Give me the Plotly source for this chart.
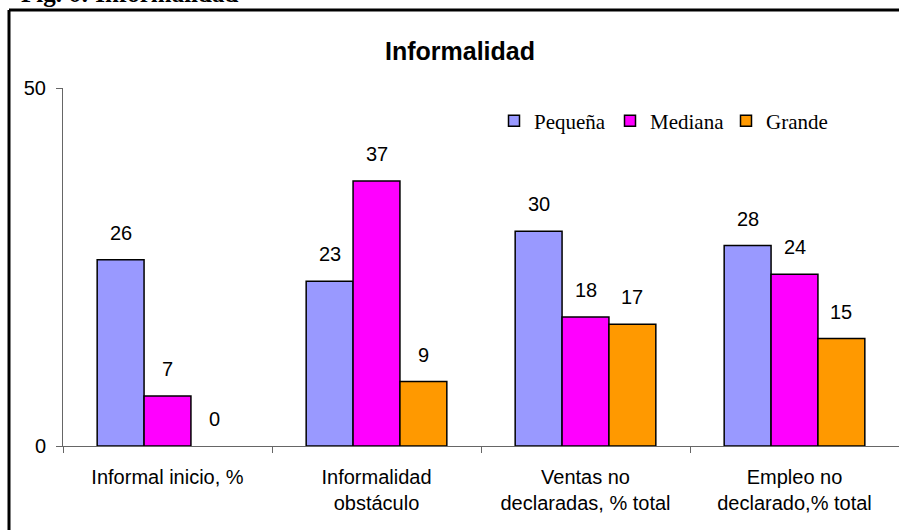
import plotly.graph_objects as go

categories = ["Informal inicio, %", "Informalidad<br>obstáculo",
              "Ventas no<br>declaradas, % total", "Empleo no<br>declarado,% total"]
series_names = ["Pequeña", "Mediana", "Grande"]
pequena = [26, 23, 30, 28]
mediana = [7, 37, 18, 24]
grande = [0, 9, 17, 15]
colors = ["#9999FF", "#FF00FF", "#FF9900"]
y_ticks = [0, 50]

W, H = 899, 530
L, R, T, B = 63, 0, 88, 84
BARGAP = 0.327

fig = go.Figure()
all_series = [pequena, mediana, grande]
for name, vals, col in zip(series_names, all_series, colors):
    fig.add_trace(go.Bar(name=name, x=categories, y=vals, showlegend=False,
                         marker=dict(color=col,
                                     line=dict(color="#000000",
                                               width=[0 if v == 0 else 1.5 for v in vals]))))
# legend entries
for name, col in zip(series_names, colors):
    fig.add_trace(go.Scatter(name=name, x=[None], y=[None], mode="markers",
                             marker=dict(symbol="square", size=11, color=col,
                                         line=dict(color="#000", width=1.5))))

bw = (1 - BARGAP) / 3
for j, vals in enumerate(all_series):
    for i, v in enumerate(vals):
        fig.add_annotation(x=i + (j - 1) * bw, y=v, xref="x", yref="y",
                           text=str(v), showarrow=False, yshift=27,
                           font=dict(family="Liberation Sans, Arial", size=20, color="#000"))

pw = W - L - R
ph = H - T - B
def px_x(p):
    return (p - L) / pw
def px_y(p):
    return (H - B - p) / ph

# outer frame (left and top edges visible)
fig.add_shape(type="line", xref="paper", yref="paper", x0=px_x(9), x1=px_x(9),
              y0=px_y(10), y1=px_y(540), line=dict(color="#000", width=3))
fig.add_shape(type="line", xref="paper", yref="paper", x0=px_x(9), x1=px_x(905),
              y0=px_y(10), y1=px_y(10), line=dict(color="#000", width=3))

fig.add_annotation(xref="paper", yref="paper", x=px_x(19), y=px_y(9),
                   xanchor="left", yanchor="bottom", showarrow=False,
                   text="<b>Fig. 6: Informalidad</b>",
                   font=dict(family="Liberation Serif, Times New Roman", size=25, color="#000"))

fig.update_layout(
    width=W, height=H,
    margin=dict(l=L, r=R, t=T, b=B),
    paper_bgcolor="white", plot_bgcolor="white",
    barmode="group", bargap=BARGAP, bargroupgap=0,
    title=dict(text="<b>Informalidad</b>", x=460 / W, xanchor="center",
               y=1 - 51 / H, yanchor="middle",
               font=dict(family="Liberation Sans, Arial", size=25, color="#000")),
    legend=dict(orientation="h", x=px_x(494), y=px_y(121), xanchor="left", yanchor="middle",
                font=dict(family="Liberation Serif, Times New Roman", size=21, color="#000"),
                bgcolor="rgba(0,0,0,0)", entrywidth=71, entrywidthmode="pixels"),
    showlegend=True,
)
fig.update_xaxes(showline=True, linecolor="#666", linewidth=1, ticks="outside",
                 tickson="boundaries", ticklen=6, tickcolor="#666", showgrid=False,
                 ticklabelstandoff=13,
                 tickfont=dict(family="Liberation Sans, Arial", size=20, color="#000"))
fig.update_yaxes(range=[0, 50], tickvals=y_ticks, showline=True, linecolor="#666",
                 linewidth=1, ticks="outside", ticklen=6, tickcolor="#666",
                 showgrid=False, zeroline=False, ticklabelstandoff=6,
                 tickfont=dict(family="Liberation Sans, Arial", size=20, color="#000"))

fig.write_html("out.html")
